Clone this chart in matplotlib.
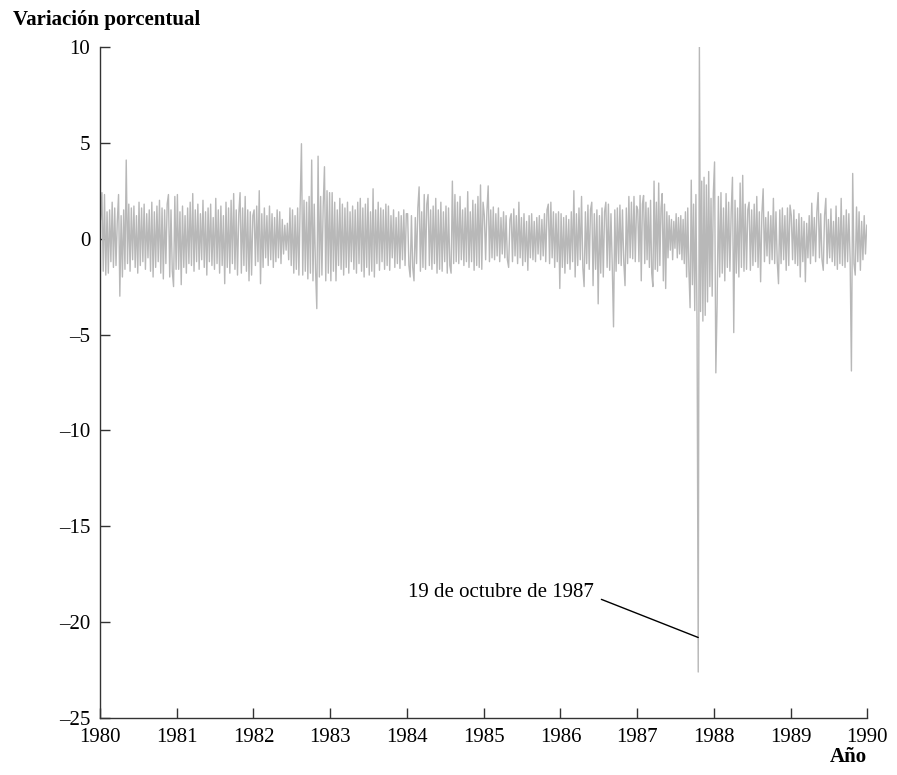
import numpy as np
import matplotlib
matplotlib.use("Agg")
import matplotlib.pyplot as plt

years = list(range(1980, 1990))
pct_1980 = [1.0, 2.4, -1.7, 2.3, -1.9, 1.4, -1.8, 1.5, -1.2, 1.9, -1.5, 1.6, -1.4, 0.9, 2.3, -3.0, 1.2, -2.0, 1.5, -1.6,
            4.1, -1.3, 1.8, -1.7, 1.6, -1.1, 1.7, -1.5, 1.2, -1.8, 1.9, -1.4, 1.6, -1.2, 1.8, -1.6, 1.3, -1.0, 1.5, -1.7,
            1.9, -2.0, 1.4, -1.5, 1.7, -1.2, 2.0, -1.8, 1.6, -2.1, 1.5, -1.3, 1.8, 2.3, -2.0, 1.5, -1.7, -2.5, 2.2, -1.6]
pct_1981 = [2.3, -1.6, 1.4, -2.4, 1.7, -1.5, 1.2, -1.8, 1.6, -1.3, 1.9, -1.4, 2.35, -1.7, 1.5, -1.2, 1.8, -1.6, 1.3, -1.1,
            2.0, -1.5, 1.4, -1.9, 1.6, -1.2, 1.8, -1.4, 1.1, -1.6, 2.1, -1.3, 1.5, -1.8, 1.7, -1.4, 1.2, -2.35, 1.9, -1.5,
            1.6, -1.8, 2.0, -1.3, 2.35, -1.6, 1.5, -1.9, 1.3, 2.4, -1.8, 1.6, -1.4, 2.2, -1.7, 1.5, -2.2, 1.4, -1.9, 1.2]
pct_1982 = [1.5, -1.4, 1.7, -1.2, 2.5, -2.35, 1.3, -1.5, 1.6, -1.0, 1.2, -1.4, 1.7, -1.1, 1.3, -1.5, 1.1, -1.2, 1.5, -1.0,
            1.4, -1.3, 1.0, -0.8, 0.7, -0.6, 0.8, -1.1, 1.6, -1.4, 1.5, -1.8, 1.2, -1.6, 1.6, -1.9, 1.8, 4.95, -1.9, 2.0,
            -1.7, 1.9, -2.1, 2.2, -1.8, 4.1, -2.2, 1.8, -1.6, -3.65, 4.3, -2.0, 2.2, -1.9, 1.7, 3.75, -2.2, 2.5, -1.8, 2.4]
pct_1983 = [-2.2, 2.4, -1.7, 1.9, -2.2, 1.5, -1.4, 2.1, -1.6, 1.8, -1.9, 1.6, -1.5, 1.9, -1.8, 1.4, -1.2, 1.7, -1.6, 1.5,
            -1.8, 1.9, -1.3, 2.1, -1.7, 1.6, -2.0, 1.8, -1.5, 2.1, -1.9, 1.4, -1.7, 2.6, -2.0, 1.5, -1.3, 1.9, -1.65, 1.6,
            -1.2, 1.5, -1.6, 1.8, -1.4, 1.7, -1.65, 1.2, -1.0, 1.5, -1.5, 1.1, -1.3, 1.4, -1.55, 1.2, -1.1, 1.5, -1.4, 1.3]
pct_1984 = [1.3, -1.4, -2.0, 1.2, -1.5, -2.2, 1.1, -1.3, 1.6, 2.7, -1.7, 1.4, -1.5, 2.3, -1.6, 1.8, 2.3, -1.4, 1.5, -1.6,
            1.7, -1.3, 2.1, -1.8, 1.5, -1.6, 1.9, -1.7, 1.4, -1.2, 1.7, -1.8, 1.6, -1.4, -1.8, 3.0, -1.3, 2.3, -1.2, 1.9,
            -1.3, 2.2, -1.1, 1.5, -1.4, 1.6, -1.2, 2.45, -1.5, 1.4, -1.2, 2.0, -1.65, 1.8, -1.4, 2.2, -1.5, 2.8, -1.6, 1.9]
pct_1985 = [1.2, -1.1, 1.4, 2.75, -1.2, 1.5, -1.0, 1.65, -1.1, 1.3, -0.9, 1.6, -1.2, 1.1, -0.8, 1.4, -1.0, 1.2, -1.1, -1.5,
            1.0, 1.3, -1.2, 1.55, -0.9, 1.2, -1.3, 1.9, -1.0, 1.1, -1.4, 1.3, -1.2, 0.9, -1.65, 1.2, -1.0, 1.3, -1.1, 0.9,
            -1.2, 1.1, -0.8, 1.2, -1.1, 1.0, -0.9, 1.3, -1.2, 1.5, 1.8, -1.3, 1.9, -1.0, 1.4, -1.5, 1.3, -1.2, 1.4, -2.6]
pct_1986 = [1.3, -1.5, 1.1, -1.8, 1.2, -1.3, 1.0, -1.6, 1.4, -1.2, 2.5, -2.0, 1.3, -1.4, 1.6, -1.1, 2.2, -1.5, -2.5, 1.4,
            -1.3, 1.75, -1.6, 1.5, 1.9, -2.45, 1.3, -1.6, 1.5, -3.4, 1.2, -1.8, 1.6, -2.0, 1.4, 1.9, -1.5, 1.8, -1.65, 1.3,
            -1.4, -4.6, 1.5, -1.7, 1.6, -1.3, 1.75, -1.4, 1.5, -1.2, -2.45, 1.6, -1.3, 2.2, -1.0, 1.9, -1.05, 2.2, -1.2, 1.7]
pct_1987 = [1.5, -1.2, 2.25, -2.2, 1.8, 2.25, -1.3, 1.9, -1.1, 1.6, -1.5, 2.0, -1.8, -2.5, 3.0, -1.6, 1.9, -1.7, 2.9, -1.4,
            1.6, 2.35, -2.2, 1.8, -2.6, 1.4, -1.0, 1.2, -0.6, 1.0, -1.1, 0.9, -0.5, 1.3, -1.0, 1.1, -0.8, 1.2, -1.1, 1.0,
            -1.3, 1.4, -2.0, 1.6, -1.7, -3.6, 3.05, -2.4, 1.8, -3.75, 2.3, -4.6, -22.6, 10.1, -3.8, 3.0, -4.3, 3.2, -4.0, 2.8,
            -3.3, 3.5, -2.5, 2.1, -3.0, 2.4]
pct_1988 = [4.0, -7.0, -3.4, 2.2, -2.0, 2.4, -1.8, 1.6, -2.2, 2.35, -1.5, 1.9, -1.7, 1.4, 3.2, -4.9, 2.0, -1.8, 1.6, -2.0,
            2.9, -1.5, 3.3, -1.7, 1.8, -1.6, 1.5, 1.9, -1.65, 1.5, -1.4, 1.8, -1.2, 2.2, -1.5, 1.4, -2.25, 1.3, 2.6, -1.2,
            1.1, -0.9, 1.4, -1.3, 1.2, -1.1, 2.1, -1.3, 1.4, -1.2, -2.35, 1.5, -1.3, 1.6, -1.1, 1.2, -1.65, 1.6, -1.4, 1.75]
pct_1989 = [1.2, -1.1, 1.5, -1.3, 1.0, -1.4, 1.3, -2.0, 1.1, -1.2, 0.9, -2.25, 0.8, -1.0, 1.2, -1.3, 1.85, -0.9, 1.1, -1.2,
            1.4, 2.4, -1.0, 1.3, -1.1, -1.65, 1.2, 2.1, -1.3, 1.0, -1.0, 1.55, -1.2, 0.9, -1.4, 1.7, -1.6, 1.1, -1.3, 2.1,
            -1.4, 1.2, -1.5, 1.5, -1.2, 1.3, -1.1, -6.9, 3.4, -1.3, -1.9, 1.65, -1.2, 1.4, -1.65, 0.9, -1.1, 1.2, -0.8, 0.7]

series = [pct_1980, pct_1981, pct_1982, pct_1983, pct_1984,
          pct_1985, pct_1986, pct_1987, pct_1988, pct_1989]

# cada valor se reparte a lo largo de su año
t, v = [], []
for yr, vals in zip(years, series):
    n = len(vals)
    t.extend(yr + (np.arange(n) + 0.5) / n)
    v.extend(vals)
t = np.array(t)
v = np.array(v)

plt.rcParams['font.family'] = ['Liberation Serif', 'DejaVu Serif']
fs = 15

fig = plt.figure(figsize=(8.97, 7.75), dpi=100)
ax = fig.add_axes([0.1115, 0.0735, 0.8555, 0.866])

ax.plot(t, v, color='#b8b8b8', linewidth=1.0)

ax.set_xlim(1980, 1990)
ax.set_ylim(-25, 10)
ax.set_xticks(range(1980, 1991))
ax.set_yticks(range(-25, 11, 5))
ax.set_yticklabels([f"{k}".replace('-', '\u2013') for k in range(-25, 11, 5)])

for s in ['top', 'right']:
    ax.spines[s].set_visible(False)
for s in ['left', 'bottom']:
    ax.spines[s].set_color('#333333')
    ax.spines[s].set_linewidth(1.0)
ax.tick_params(direction='in', length=7, width=1.0, color='#333333',
               labelsize=fs, pad=7)

# anotación del crac
k = np.argmin(v)
ax.annotate('19 de octubre de 1987', xy=(t[k], -20.8), xytext=(1986.43, -18.45),
            ha='right', va='center', fontsize=fs,
            arrowprops=dict(arrowstyle='-', color='black', lw=1.0,
                            relpos=(1.0, 0.3), shrinkA=4, shrinkB=0))

fig.text(0.0145, 0.974, 'Variación porcentual', fontsize=fs, fontweight='bold',
         ha='left', va='center')
fig.text(0.966, 0.023, 'Año', fontsize=fs, fontweight='bold',
         ha='right', va='center')

fig.savefig('out.png', dpi=100)
